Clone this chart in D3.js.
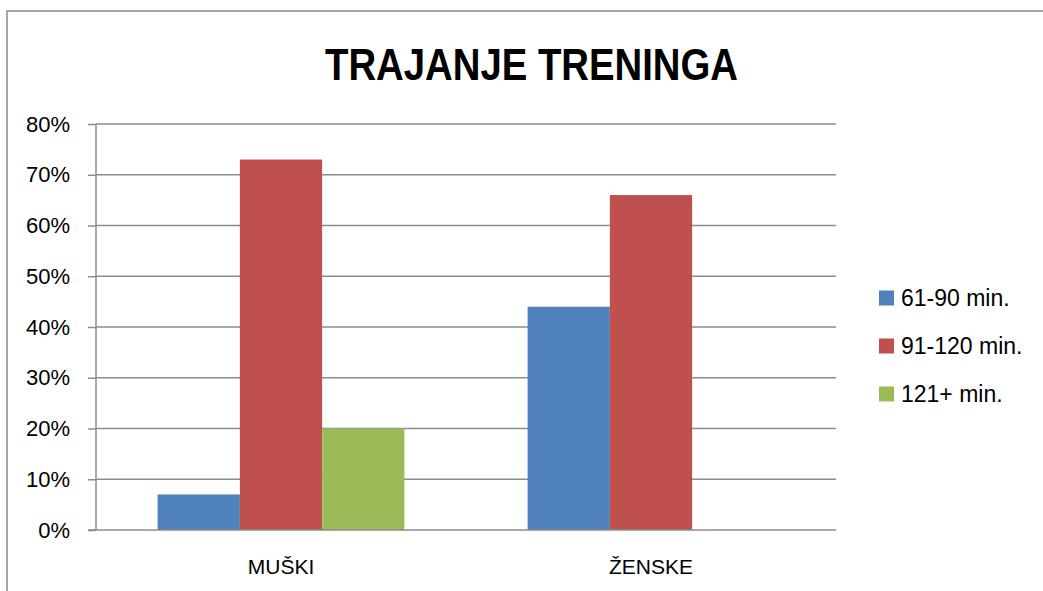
<!DOCTYPE html>
<html>
<head>
<meta charset="utf-8">
<script src="https://cdn.jsdelivr.net/npm/d3@7"></script>
<style>
html,body{margin:0;padding:0;background:#fff;}
svg{display:block;}
text{font-family:"Liberation Sans",Arial,sans-serif;fill:#000;}
</style>
</head>
<body>
<svg id="chart" width="1043" height="591"></svg>
<script>
const title = "TRAJANJE TRENINGA";
const categories = ["MUŠKI", "ŽENSKE"];
const seriesNames = ["61-90 min.", "91-120 min.", "121+ min."];
const series1 = [0.07, 0.44];
const series2 = [0.73, 0.66];
const series3 = [0.20, 0.00];
const yTicks = [0, 0.1, 0.2, 0.3, 0.4, 0.5, 0.6, 0.7, 0.8];
const colors = ["#4F81BD", "#C0504D", "#9BBB59"];

const allSeries = [series1, series2, series3];
const svg = d3.select("#chart");
const W = 1043, H = 591;
const plot = {left: 96, right: 836, top: 124, bottom: 530};
const grid = "#8c8c8c";

// outer chart border
svg.append("rect").attr("x", 7).attr("y", 11).attr("width", W + 20).attr("height", H + 20)
  .attr("fill", "none").attr("stroke", "#8a8a8a").attr("stroke-width", 1.5);

const y = d3.scaleLinear().domain([0, 0.8]).range([plot.bottom, plot.top]);
const x0 = d3.scaleBand().domain(categories).range([plot.left, plot.right]).paddingInner(0.333).paddingOuter(0.1665);
const x1 = d3.scaleBand().domain(d3.range(seriesNames.length)).range([0, x0.bandwidth()]);

// gridlines
svg.append("g").selectAll("line").data(yTicks.filter(d => d > 0)).join("line")
  .attr("x1", plot.left).attr("x2", plot.right)
  .attr("y1", d => y(d)).attr("y2", d => y(d))
  .attr("stroke", grid).attr("stroke-width", 1.5);

// bars
const groups = svg.append("g").selectAll("g").data(categories).join("g")
  .attr("transform", d => `translate(${x0(d)},0)`);
groups.selectAll("rect").data((c, ci) => allSeries.map((s, si) => ({si, v: s[ci]}))).join("rect")
  .attr("x", d => x1(d.si)).attr("width", x1.bandwidth())
  .attr("y", d => y(d.v)).attr("height", d => y(0) - y(d.v))
  .attr("fill", d => colors[d.si]);

// y axis
const yAxis = d3.axisLeft(y).tickValues(yTicks).tickFormat(d3.format(".0%")).tickSize(8).tickPadding(18);
const ya = svg.append("g").attr("transform", `translate(${plot.left},0)`).call(yAxis);
ya.select(".domain").attr("stroke", grid).attr("stroke-width", 1.5).attr("d", `M0,${plot.top}V${plot.bottom}`);
ya.selectAll(".tick line").attr("stroke", grid).attr("stroke-width", 1.5);
ya.selectAll(".tick text").attr("font-size", 22).attr("font-family", "Liberation Sans, Arial, sans-serif").attr("fill", "#000");

// x axis baseline
svg.append("line").attr("x1", plot.left - 8).attr("x2", plot.right)
  .attr("y1", y(0)).attr("y2", y(0)).attr("stroke", grid).attr("stroke-width", 1.5);

// category labels
svg.append("g").selectAll("text").data(categories).join("text")
  .attr("x", d => x0(d) + x0.bandwidth() / 2).attr("y", 574)
  .attr("text-anchor", "middle").attr("font-size", 21).text(d => d);

// title
svg.append("text").attr("x", 531.5).attr("y", 80).attr("text-anchor", "middle")
  .attr("font-size", 44).attr("font-weight", "bold")
  .attr("textLength", 413).attr("lengthAdjust", "spacingAndGlyphs").text(title);

// legend
const lg = svg.append("g").selectAll("g").data(seriesNames).join("g")
  .attr("transform", (d, i) => `translate(879,${298 + i * 48})`);
lg.append("rect").attr("x", 0).attr("y", -7.5).attr("width", 15).attr("height", 15)
  .attr("fill", (d, i) => colors[i]);
lg.append("text").attr("x", 22).attr("y", 8).attr("font-size", 23).text(d => d);
</script>
</body>
</html>
